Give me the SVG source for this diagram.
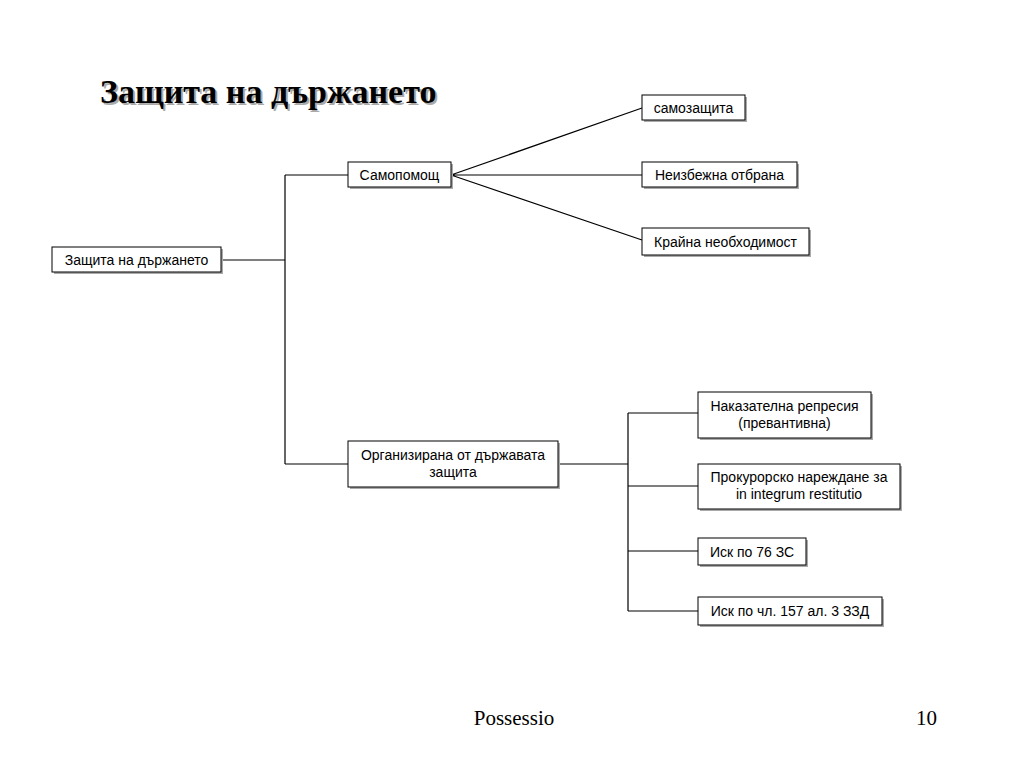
<svg xmlns="http://www.w3.org/2000/svg" width="1024" height="768" viewBox="0 0 1024 768">
<defs>
<style>
.box{fill:#fff;stroke:#000;stroke-width:1}
.sh{fill:#aaa}
.t{font-family:"Liberation Sans",Arial,sans-serif;font-size:14px;fill:#000;text-anchor:middle}
.c{stroke:#000;stroke-width:1.2;fill:none}
.title{font-family:"Liberation Serif","Times New Roman",serif;font-size:34px;font-weight:bold}
.foot{font-family:"Liberation Serif","Times New Roman",serif;font-size:21px;fill:#000}
</style>
</defs>
<rect width="1024" height="768" fill="#fff"/>
<text class="title" x="102" y="105" fill="#aaa">Защита на държането</text>
<text class="title" x="100" y="103" fill="#000">Защита на държането</text>
<g id="connectors">
<path class="c" d="M221 260H285M285 175V464M285 175H348M285 464H348"/>
<path class="c" d="M451 175L642 108M451 175H642M451 175L642 240"/>
<path class="c" d="M558 464H628M628 413V611M628 413H698M628 486H698M628 551H698M628 611H698"/>
</g>
<g id="n-root"><rect class="sh" x="54" y="249" width="169" height="25"/><rect class="box" x="52" y="247" width="169" height="25"/><text class="t" x="136.5" y="265">Защита на държането</text></g>
<g id="n-samopomosht"><rect class="sh" x="350" y="164" width="103" height="25"/><rect class="box" x="348" y="162" width="103" height="25"/><text class="t" x="399.5" y="180">Самопомощ</text></g>
<g id="n-samozashtita"><rect class="sh" x="644" y="97" width="103" height="25"/><rect class="box" x="642" y="95" width="103" height="25"/><text class="t" x="693.5" y="113">самозащита</text></g>
<g id="n-otbrana"><rect class="sh" x="644" y="164" width="155" height="25"/><rect class="box" x="642" y="162" width="155" height="25"/><text class="t" x="719.5" y="180">Неизбежна отбрана</text></g>
<g id="n-krayna"><rect class="sh" x="644" y="230" width="167" height="27"/><rect class="box" x="642" y="228" width="167" height="27"/><text class="t" x="725.5" y="247">Крайна необходимост</text></g>
<g id="n-organizirana"><rect class="sh" x="350" y="443" width="210" height="46"/><rect class="box" x="348" y="441" width="210" height="46"/><text class="t" x="453" y="460">Организирана от държавата</text><text class="t" x="453" y="477">защита</text></g>
<g id="n-nakazatelna"><rect class="sh" x="700" y="394" width="173" height="46"/><rect class="box" x="698" y="392" width="173" height="46"/><text class="t" x="784.5" y="411">Наказателна репресия</text><text class="t" x="784.5" y="428">(превантивна)</text></g>
<g id="n-prokurorsko"><rect class="sh" x="700" y="466" width="202" height="45"/><rect class="box" x="698" y="464" width="202" height="45"/><text class="t" x="799" y="482">Прокурорско нареждане за</text><text class="t" x="799" y="499">in integrum restitutio</text></g>
<g id="n-isk76"><rect class="sh" x="700" y="540" width="108" height="27"/><rect class="box" x="698" y="538" width="108" height="27"/><text class="t" x="752" y="557">Иск по 76 ЗС</text></g>
<g id="n-isk157"><rect class="sh" x="700" y="599" width="184" height="28"/><rect class="box" x="698" y="597" width="184" height="28"/><text class="t" x="790" y="616">Иск по чл. 157 ал. 3 ЗЗД</text></g>
<text class="foot" x="514" y="725" text-anchor="middle">Possessio</text>
<text class="foot" x="937" y="725" text-anchor="end">10</text>
</svg>
